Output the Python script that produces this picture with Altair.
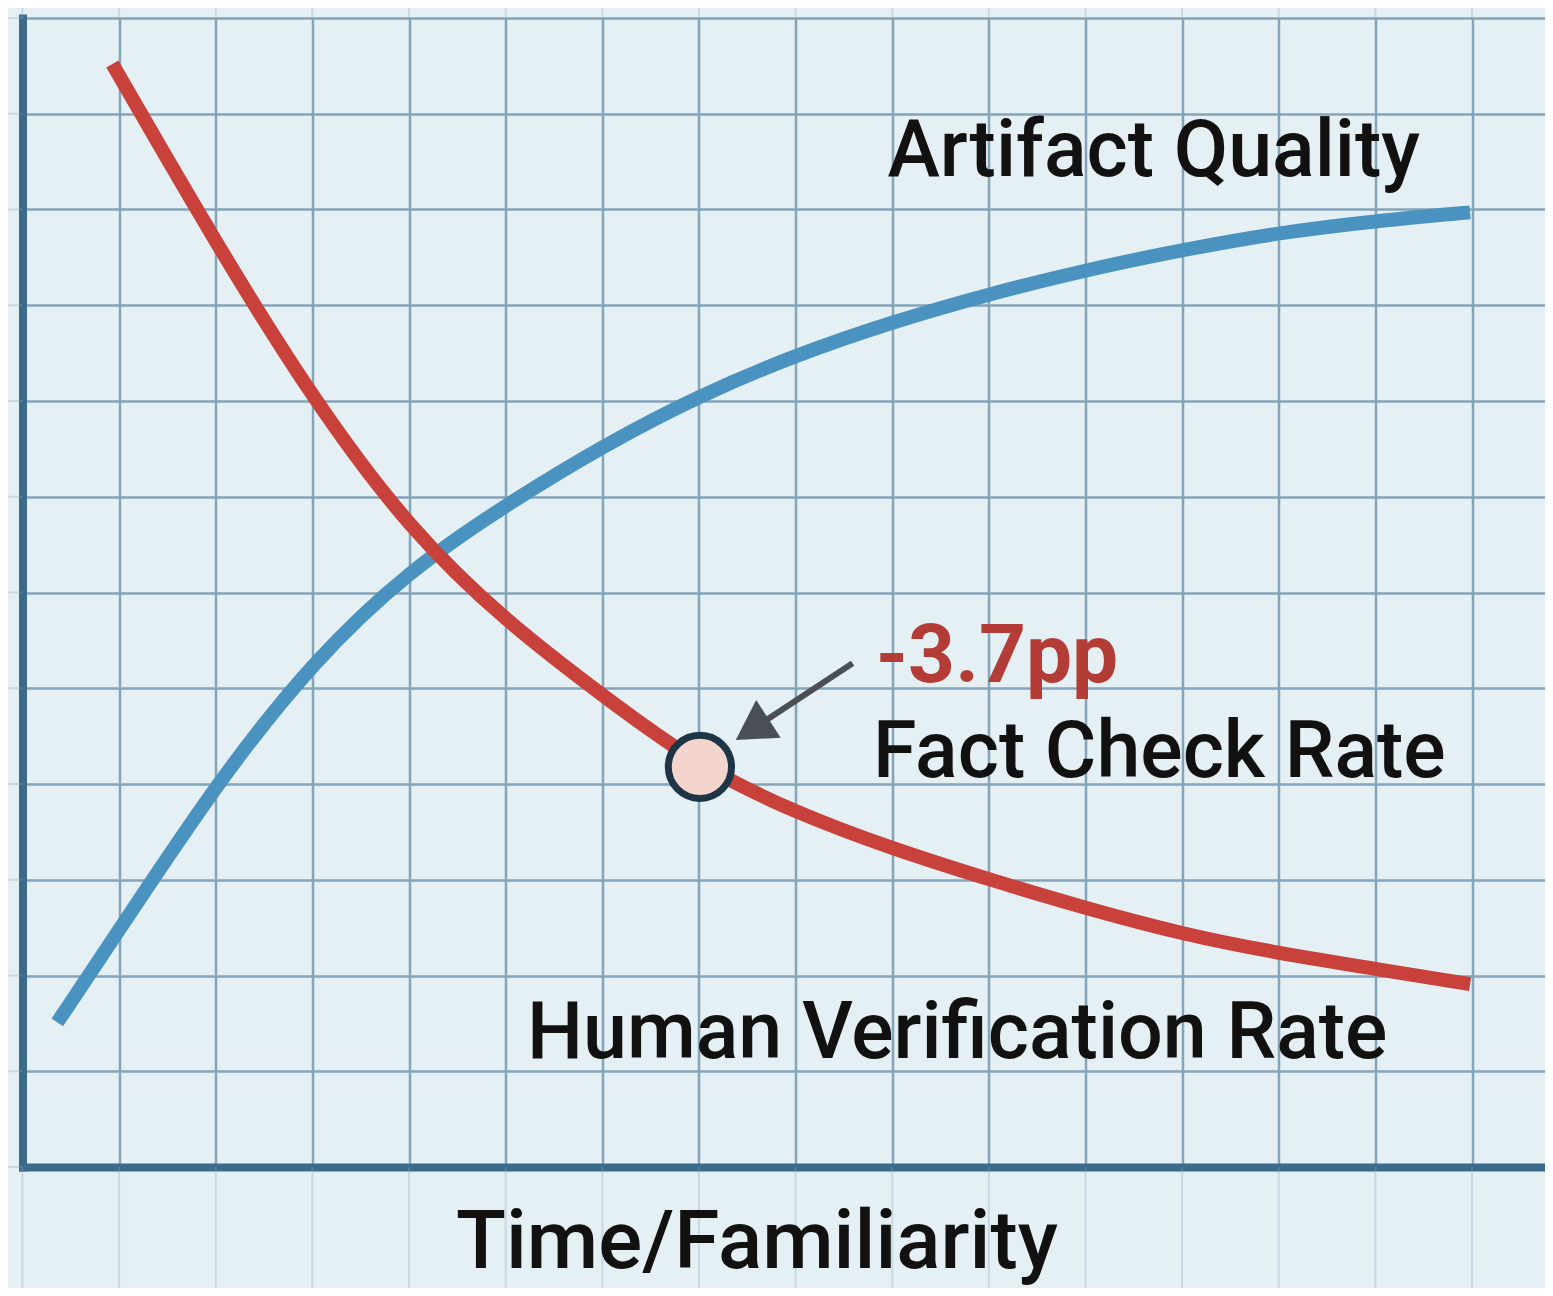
import altair as alt
import pandas as pd

# ---- data (grid units: 1 unit = one grid square) ----
quality_x = [0.36, 1.01, 2.01, 3.01, 4.01, 5.01, 6.02, 7.01, 8.0, 9.01, 10.01, 11.01, 12.01, 13.01, 14.0, 14.98]
quality_y = [1.51, 2.49, 4.01, 5.29, 6.24, 6.92, 7.54, 8.06, 8.48, 8.83, 9.12, 9.37, 9.58, 9.76, 9.88, 9.97]

verif_x = [0.93, 2.01, 3.01, 4.01, 5.01, 6.02, 7.01, 8.0, 9.01, 10.01, 11.01, 12.01, 13.01, 14.0, 14.98]
verif_y = [11.52, 9.63, 8.01, 6.65, 5.69, 4.91, 4.18, 3.70, 3.32, 3.00, 2.70, 2.43, 2.23, 2.07, 1.91]

marker_x = [7.01]
marker_y = [4.18]

arrow_from_x = [8.59]
arrow_from_y = [5.26]
arrow_head_x = [7.55]
arrow_head_y = [4.57]

label_text = ["Artifact Quality", "Fact Check Rate", "Human Verification Rate"]
label_x = [8.95, 8.80, 5.22]
label_y = [10.35, 4.07, 1.14]

delta_text = ["-3.7pp"]
delta_x = [8.83]
delta_y = [5.07]

axis_title = ["Time/Familiarity"]
axis_title_x = [7.60]
axis_title_y = [-1.05]

grid_x = list(range(0, 16))
grid_y = list(range(0, 13))

X_MAX = 15.75
Y_MAX = 12

# ---- styles ----
BG = "#e5f0f4"
GRID = "#84a4ba"
AXIS = "#3b6a8b"
BLUE = "#4a93c0"
RED = "#c8413a"

xs = alt.Scale(domain=[0, X_MAX], nice=False, zero=False)
ys = alt.Scale(domain=[0, Y_MAX], nice=False, zero=False)

x_axis = alt.Axis(values=grid_x, grid=True, labels=False, ticks=False, title=None,
                  domainWidth=8, domainColor=AXIS, domainCap="square",
                  gridColor=GRID, gridWidth=2.5, gridOpacity=1)
y_axis = alt.Axis(values=grid_y, grid=True, labels=False, ticks=False, title=None,
                  domainWidth=8, domainColor=AXIS, domainCap="square",
                  gridColor=GRID, gridWidth=2.5, gridOpacity=1)


def X(field="x"):
    return alt.X(f"{field}:Q", scale=xs, axis=x_axis)


def Y(field="y"):
    return alt.Y(f"{field}:Q", scale=ys, axis=y_axis)


# faint paper grid outside the plot area
outer_v = pd.DataFrame({
    "x": grid_x + grid_x,
    "y": [-1.35] * len(grid_x) + [Y_MAX] * len(grid_x),
    "y2": [0] * len(grid_x) + [Y_MAX + 0.2] * len(grid_x),
})
outer_v_layer = alt.Chart(outer_v).mark_rule(color=GRID, strokeWidth=2, opacity=0.3).encode(
    x=X(), y=Y(), y2="y2:Q")
outer_h = pd.DataFrame({"y": grid_y, "x": [-0.16] * len(grid_y), "x2": [0] * len(grid_y)})
outer_h_layer = alt.Chart(outer_h).mark_rule(color=GRID, strokeWidth=2, opacity=0.3).encode(
    x=X(), x2="x2:Q", y=Y())

quality = pd.DataFrame({"x": quality_x, "y": quality_y})
verif = pd.DataFrame({"x": verif_x, "y": verif_y})

quality_line = alt.Chart(quality).mark_line(color=BLUE, strokeWidth=14, strokeCap="butt",
                                            interpolate="basis").encode(x=X(), y=Y())
verif_line = alt.Chart(verif).mark_line(color=RED, strokeWidth=14, strokeCap="butt",
                                        interpolate="basis").encode(x=X(), y=Y())

shaft = alt.Chart(pd.DataFrame({"x": arrow_from_x, "y": arrow_from_y,
                                "x2": arrow_head_x, "y2": arrow_head_y})).mark_rule(
    color="#4a4f55", strokeWidth=6).encode(x=X(), y=Y(), x2="x2:Q", y2="y2:Q")

head = alt.Chart(pd.DataFrame({"x": arrow_head_x, "y": arrow_head_y})).mark_point(
    shape="triangle-up", filled=True, size=2025, angle=237, color="#4a4f55", opacity=1
).encode(x=X(), y=Y())

marker = alt.Chart(pd.DataFrame({"x": marker_x, "y": marker_y})).mark_circle(
    size=4000, color="#f4d5cd", stroke="#1d3547", strokeWidth=7, opacity=1
).encode(x=X(), y=Y())

labels = alt.Chart(pd.DataFrame({"x": label_x, "y": label_y, "t": label_text})).mark_text(
    align="left", baseline="alphabetic", font="Roboto", fontSize=79, fontWeight=500, color="#111111"
).encode(x=X(), y=Y(), text="t:N")

delta = alt.Chart(pd.DataFrame({"x": delta_x, "y": delta_y, "t": delta_text})).mark_text(
    align="left", baseline="alphabetic", font="Roboto", fontSize=82, fontWeight="bold", color="#b33c36"
).encode(x=X(), y=Y(), text="t:N")

title = alt.Chart(pd.DataFrame({"x": axis_title_x, "y": axis_title_y, "t": axis_title})).mark_text(
    align="center", baseline="alphabetic", font="Roboto", fontSize=82, fontWeight=500, color="#111111"
).encode(x=X(), y=Y(), text="t:N")

chart = alt.layer(
    outer_v_layer, outer_h_layer, quality_line, verif_line, shaft, head, marker,
    labels, delta, title
).properties(
    width=1522, height=1149, background=BG,
    padding={"left": 14.5, "top": 10, "right": 0, "bottom": 121},
    autosize=alt.AutoSizeParams(type="none"),
).configure_view(stroke=None)

chart.save("out.html", embed_options={"renderer": "svg", "actions": False})
